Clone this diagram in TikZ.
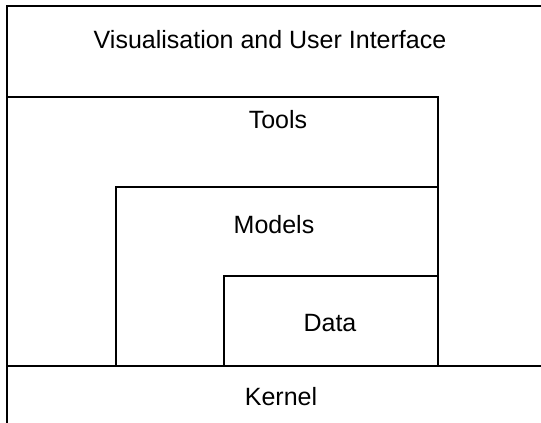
\documentclass[tikz,border=0pt]{standalone}
\usepackage{fontspec}
\setmainfont{Liberation Sans}
\usetikzlibrary{positioning}
\tikzstyle{layer} = [draw=none, anchor=base, font=\fontsize{25}{30}\selectfont, inner sep=0pt]
\tikzstyle{wall} = [line width=2pt, line cap=rect, draw=black]

\begin{document}
\begin{tikzpicture}[x=1pt, y=-1pt]
		\useasboundingbox (0,0) rectangle (541,423);
		\coordinate (corner) at (7,6);
		\coordinate (topend) at (541,6);
		\coordinate (leftend) at (7,423);
		\coordinate (kernel_left) at (7,366);
		\coordinate (kernel_right) at (541,366);
		
		\node (vis) [layer] at (270,48) {Visualisation and User Interface};
		\node (tools) [layer] at (278,128) {Tools};
		\node (models) [layer] at (274,233) {Models};
		\node (data) [layer] at (330,331) {Data};
		\node (kernel) [layer] at (281,405) {Kernel};
		
		\draw [wall] (topend) -- (corner) -- (leftend);
		\draw [wall] (7,97) -- (438,97) -- (438,366);
		\draw [wall] (116,366) -- (116,187) -- (438,187);
		\draw [wall] (224,366) -- (224,276) -- (438,276);
		\draw [wall] (kernel_left) -- (kernel_right);
		\end{tikzpicture}
\end{document}
